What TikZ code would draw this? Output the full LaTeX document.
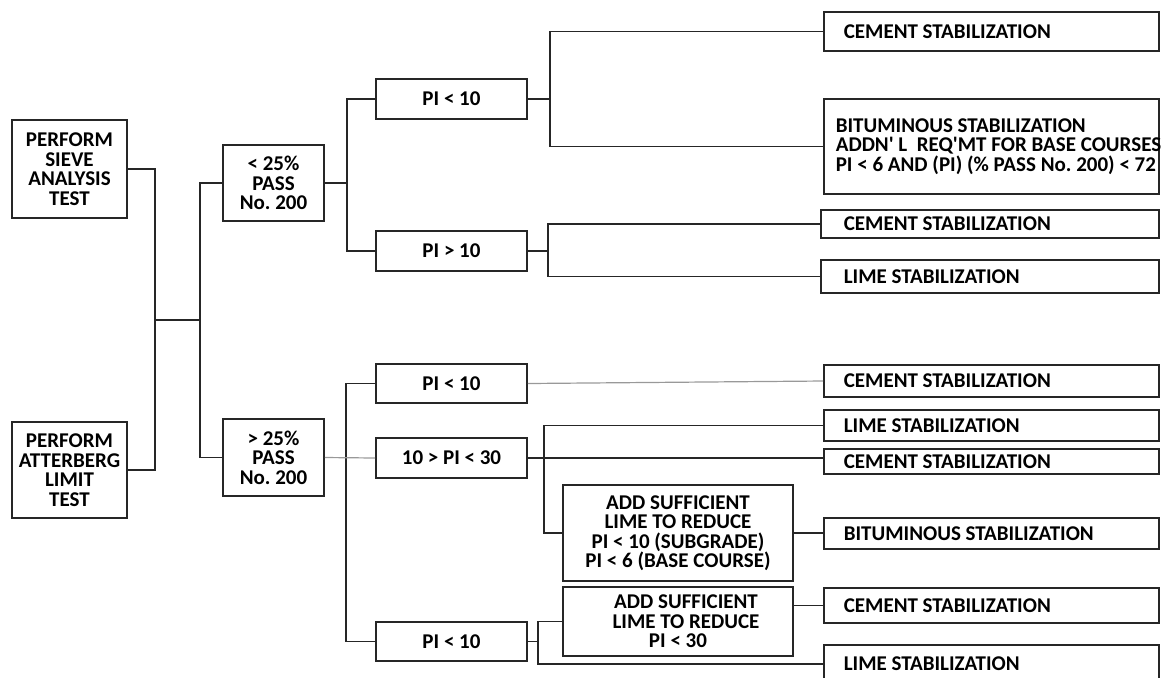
\documentclass[tikz,border=0pt]{standalone}
\usepackage{fontspec}
\setmainfont{Carlito}[Ligatures=TeXOff]
\tikzset{
  blk/.style={draw=black!85,line width=0.8pt,rectangle,inner sep=0pt,align=center,
    font=\bfseries\fontsize{10.5}{9.75}\selectfont\frenchspacing},
  res/.style={blk,anchor=west,align=flush left,inner xsep=10pt,text width=147.5pt},
  wire/.style={draw=black!85,line width=0.75pt},
  wirefaint/.style={draw=black!40,line width=0.6pt}
}
\begin{document}
\begin{tikzpicture}[x=0.5pt,y=-0.5pt]
  \useasboundingbox (0,0) rectangle (1163,677);
  % tests
  \node[blk,minimum width=57.5pt,minimum height=49pt] (sieve) at (69.5,169) {PERFORM\\SIEVE\\ANALYSIS\\TEST};
  \node[blk,minimum width=57.5pt,minimum height=48pt] (atter) at (69.5,470) {PERFORM\\ATTERBERG\\LIMIT\\TEST};
  % passing No. 200
  \node[blk,minimum width=50.5pt,minimum height=38pt] (lt25) at (273.5,183) {< 25\%\\PASS\\No. 200};
  \node[blk,minimum width=50.5pt,minimum height=38.5pt] (gt25) at (273.5,457.5) {> 25\%\\PASS\\No. 200};
  % plasticity index
  \node[blk,minimum width=75.5pt,minimum height=20pt] (pia) at (451.5,99) {PI < 10};
  \node[blk,minimum width=75.5pt,minimum height=20pt] (pib) at (451.5,251) {PI > 10};
  \node[blk,minimum width=75.5pt,minimum height=19.5pt] (pic) at (451.5,383.5) {PI < 10};
  \node[blk,minimum width=75.5pt,minimum height=20pt] (pid) at (451.5,458) {10 > PI < 30};
  \node[blk,minimum width=75.5pt,minimum height=19.5pt] (pie) at (451.5,641.5) {PI < 10};
  \node[blk,minimum width=115pt,minimum height=48pt] (adda) at (678,533) {ADD SUFFICIENT\\LIME TO REDUCE\\PI < 10 (SUBGRADE)\\PI < 6 (BASE COURSE)};
  \node[blk,minimum width=115pt,minimum height=34.5pt] (addb) at (678,621.5) {\hspace*{8pt}ADD SUFFICIENT\\\hspace*{8pt}LIME TO REDUCE\\PI < 30};
  % stabilization
  \node[res,minimum height=19.5pt] (r1) at (823,31.5) {CEMENT STABILIZATION};
  \node[res,minimum height=47.5pt,inner xsep=6pt,text width=155.5pt] (r2) at (823,146.5) {BITUMINOUS STABILIZATION\\\mbox{ADDN' L\ \ REQ'MT FOR BASE COURSES}\\\mbox{PI < 6 AND (PI) (\% PASS No. 200) < 72}};
  \node[res,minimum height=14pt,inner xsep=11.5pt,text width=146pt] (r3) at (820,224) {CEMENT STABILIZATION};
  \node[res,minimum height=16.5pt,inner xsep=11.5pt,text width=146pt] (r4) at (820,276.5) {LIME STABILIZATION};
  \node[res,minimum height=16pt] (r5) at (823,381) {CEMENT STABILIZATION};
  \node[res,minimum height=15.5pt] (r6) at (823,425.5) {LIME STABILIZATION};
  \node[res,minimum height=12.5pt] (r7) at (823,461.5) {CEMENT STABILIZATION};
  \node[res,minimum height=15.5pt] (r8) at (823,533.5) {BITUMINOUS STABILIZATION};
  \node[res,minimum height=17.5pt] (r9) at (823,605.5) {CEMENT STABILIZATION};
  \node[res,minimum height=19pt] (r10) at (823,664) {LIME STABILIZATION};
  % junctions
  \coordinate (j1) at (155,320);
  \coordinate (j2) at (200,320);
  \coordinate (j3) at (347,183);
  \coordinate (j4) at (550,99);
  \coordinate (j5) at (548,251);
  \coordinate (j6) at (346,458);
  \coordinate (j7) at (544,458);
  \coordinate (j8) at (538,641.5);
  % connectors
  \draw[wire] (sieve.east) -| (j1) |- (atter.east);
  \draw[wire] (j1) -- (j2);
  \draw[wire] (lt25.west) -| (j2) |- (gt25.west);
  \draw[wire] (lt25.east) -- (j3);
  \draw[wire] (pia.west) -| (j3) |- (pib.west);
  \draw[wire] (pia.east) -- (j4);
  \draw[wire] (r1.west) -| (j4) |- (r2.west);
  \draw[wire] (pib.east) -- (j5);
  \draw[wire] (r3.west) -| (j5) |- (r4.west);
  \draw[wire] (pic.west) -| (j6) |- (pie.west);
  \draw[wirefaint] (gt25.east) -- (pid.west);
  \draw[wirefaint] (pic.east) -- (r5.west);
  \draw[wire] (pid.east) -- (pid.east -| r7.west);
  \draw[wire] (r6.west) -| (j7) |- (adda.west);
  \draw[wire] (adda.east) -- (adda.east -| r8.west);
  \draw[wire] (pie.east) -- (j8);
  \draw[wire] (addb.west) -| (j8) |- (r10.west);
  \draw[wire] (addb.east |- r9.west) -- (r9.west);
\end{tikzpicture}
\end{document}
